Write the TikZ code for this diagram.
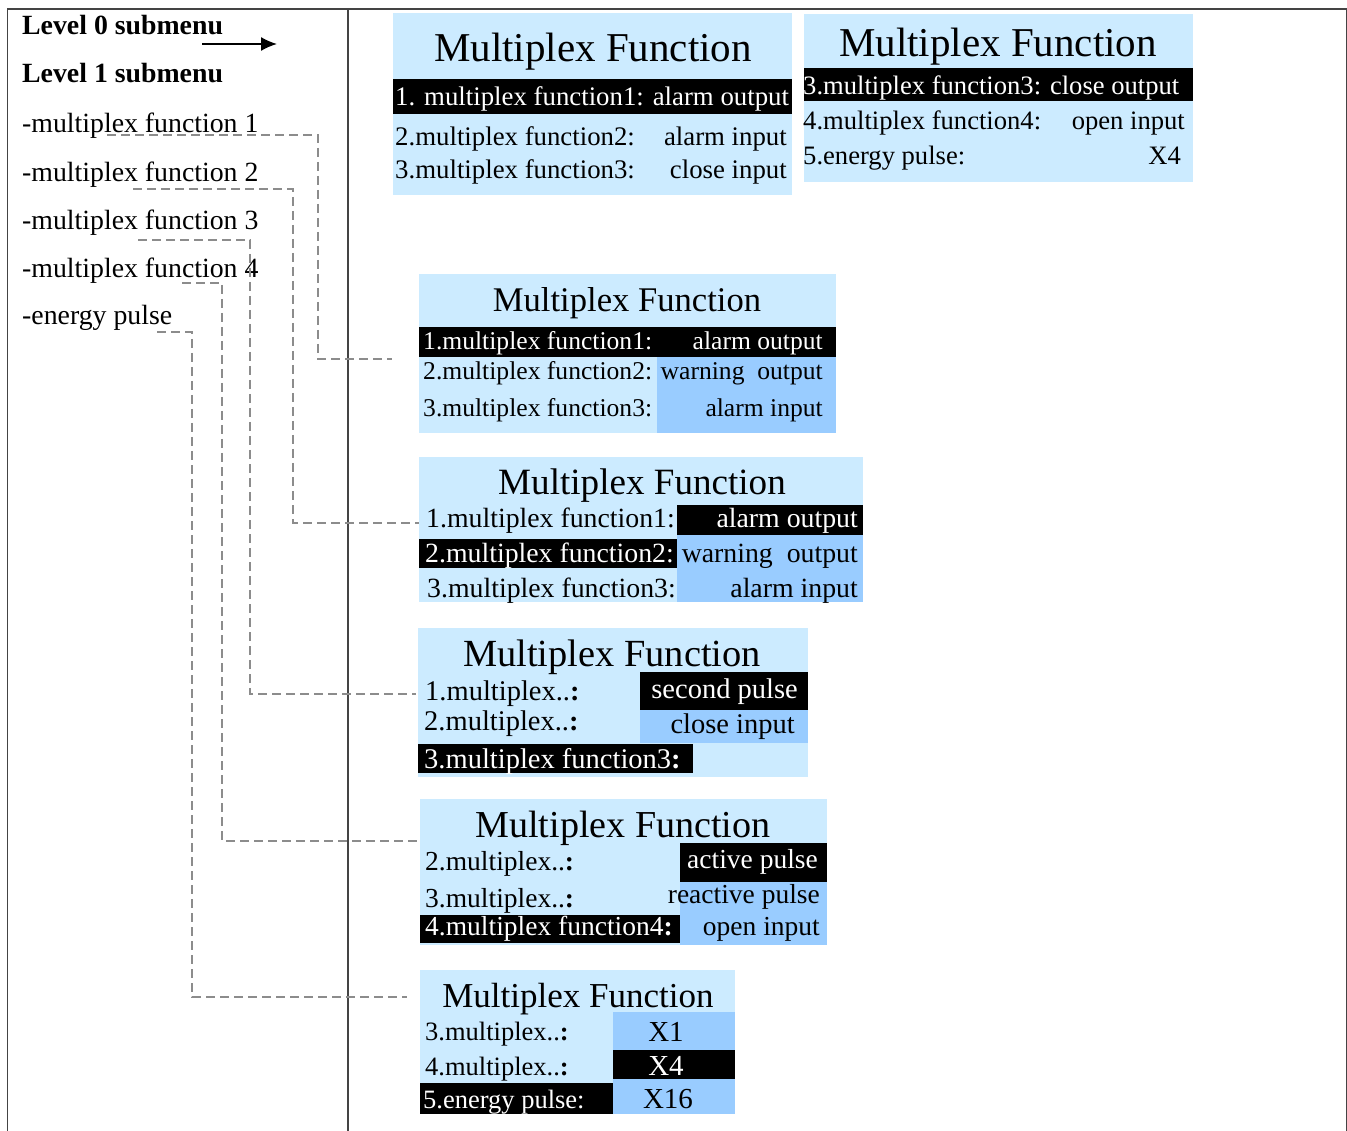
\documentclass[tikz,border=0pt]{standalone}
\usepackage{fontspec}
\setmainfont{Liberation Serif}
\usetikzlibrary{arrows.meta}
\definecolor{pale}{HTML}{CCEBFF}
\definecolor{deep}{HTML}{99CCFF}
\definecolor{rule}{HTML}{444444}
\definecolor{leader}{HTML}{8C8C8C}
\newcommand{\fsz}[1]{\fontsize{#1pt}{#1pt}\selectfont}
\newcommand{\wcol}{\textbf{:}\hspace{0.35em}}
\newcommand{\gap}{\hspace{0.5em}}

\begin{document}
\begin{tikzpicture}[x=1pt,y=-1pt,
  txt/.style={anchor=base west,inner sep=0pt},
  txr/.style={anchor=base east,inner sep=0pt},
  ttl/.style={anchor=base,inner sep=0pt},
  panel/.style={fill=pale,anchor=north west,inner sep=0pt},
  link/.style={leader,line width=1.5pt,dash pattern=on 9pt off 5pt}]
  \useasboundingbox (0,0) rectangle (1347,1131);
  % table frame
  \draw[rule,line width=1.4pt] (7.5,1131) -- (7.5,9) -- (1346.5,9) -- (1346.5,1131);
  \draw[rule,line width=1.4pt] (348,9) -- (348,1131);
  % menu column
  \node[txt,font=\bfseries\fsz{27.8}] (lv0) at (22,35) {Level 0 submenu};
  \node[txt,font=\bfseries\fsz{27.8}] (lv1) at (22,83) {Level 1 submenu};
  \coordinate (a0) at (202,44);
  \coordinate (a1) at (277,44);
  \draw[line width=1.6pt,-{Latex[length=16pt,width=14pt]}] (a0) -- (a1);
  \node[txt,font=\fsz{27.8}] (f1) at (22,133) {-multiplex function 1};
  \node[txt,font=\fsz{27.8}] (f2) at (22,182) {-multiplex function 2};
  \node[txt,font=\fsz{27.8}] (f3) at (22,230) {-multiplex function 3};
  \node[txt,font=\fsz{27.8}] (f4) at (22,278) {-multiplex function 4};
  \node[txt,font=\fsz{27.8}] (f5) at (22,325) {-energy pulse};
  % dashed leaders to the screens
  \coordinate (s1) at (107,135); \coordinate (e1) at (392,359);
  \coordinate (s2) at (133,189); \coordinate (e2) at (420,523);
  \coordinate (s3) at (138,240); \coordinate (e3) at (416,694);
  \coordinate (s4) at (182,283); \coordinate (e4) at (417,841);
  \coordinate (s5) at (157,332); \coordinate (e5) at (407,997);
  \draw[link] (s1) -- ++(211,0) |- (e1);
  \draw[link] (s2) -- ++(160,0) |- (e2);
  \draw[link] (s3) -- ++(112,0) |- (e3);
  \draw[link] (s4) -- ++(40,0) |- (e4);
  \draw[link] (s5) -- ++(35,0) |- (e5);

  % screen 1 (level 0)
  \node[panel,minimum width=399pt,minimum height=182pt] (p1) at (393,13) {};
  \fill[black] (393,79) rectangle (792,114);
  \node[ttl,font=\fsz{41}] (t1) at (593,62) {Multiplex Function};
  \node[txt,text=white,font=\fsz{26.8}] (r11) at (395,106) {1. multiplex function1: alarm output};
  \node[txt,font=\fsz{26.8}] (r12) at (395,146) {2.multiplex function2:};
  \node[txr,font=\fsz{26.8}] (v12) at (787,146) {alarm input};
  \node[txt,font=\fsz{26.8}] (r13) at (395,179) {3.multiplex function3:};
  \node[txr,font=\fsz{26.8}] (v13) at (787,179) {close input};

  % screen 2 (level 0, scrolled)
  \node[panel,minimum width=389pt,minimum height=168pt] (p2) at (804,14) {};
  \fill[black] (804,68) rectangle (1193,101);
  \node[ttl,font=\fsz{41}] (t2) at (998,57) {Multiplex Function};
  \node[txt,text=white,font=\fsz{26.6}] (r21) at (803,95) {3.multiplex function3: close output};
  \node[txt,font=\fsz{26.6}] (r22) at (803,130) {4.multiplex function4:};
  \node[txr,font=\fsz{26.6}] (v22) at (1185,130) {open input};
  \node[txt,font=\fsz{26.6}] (r23) at (803,165) {5.energy pulse:};
  \node[txr,font=\fsz{26.6}] (v23) at (1181,165) {X4};

  % screen 3 (function 1)
  \node[panel,minimum width=417pt,minimum height=159pt] (p3) at (419,274) {};
  \fill[black] (419,327) rectangle (836,357);
  \fill[deep] (657,357) rectangle (836,433);
  \node[ttl,font=\fsz{34.6}] (t3) at (627,312) {Multiplex Function};
  \node[txt,text=white,font=\fsz{25.6}] (r31) at (423,350) {1.multiplex function1:};
  \node[txr,text=white,font=\fsz{25.6}] (v31) at (823,350) {alarm output};
  \node[txt,font=\fsz{25.6}] (r32) at (423,380) {2.multiplex function2:};
  \node[txr,font=\fsz{25.6}] (v32) at (823,380) {warning\gap output};
  \node[txt,font=\fsz{25.6}] (r33) at (423,417) {3.multiplex function3:};
  \node[txr,font=\fsz{25.6}] (v33) at (823,417) {alarm input};

  % screen 4 (function 2)
  \node[panel,minimum width=444pt,minimum height=145pt] (p4) at (419,457) {};
  \fill[black] (677,505) rectangle (863,535);
  \fill[black] (419,539) rectangle (677,568);
  \fill[deep] (677,535) rectangle (863,602);
  \node[ttl,font=\fsz{37.1}] (t4) at (642,494) {Multiplex Function};
  \node[txt,font=\fsz{27.8}] (r41) at (426,527) {1.multiplex function1:};
  \node[txr,text=white,font=\fsz{27.8}] (v41) at (858,527) {alarm output};
  \node[txt,text=white,font=\fsz{27.8}] (r42) at (425,562) {2.multiplex function2:};
  \node[txr,font=\fsz{27.8}] (v42) at (858,562) {warning\gap output};
  \node[txt,font=\fsz{27.8}] (r43) at (427,597) {3.multiplex function3:};
  \node[txr,font=\fsz{27.8}] (v43) at (858,597) {alarm input};

  % screen 5 (function 3)
  \node[panel,minimum width=390pt,minimum height=149pt] (p5) at (418,628) {};
  \fill[black] (640,672) rectangle (808,710);
  \fill[deep] (640,710) rectangle (808,743);
  \fill[black] (418,744) rectangle (693,773);
  \node[ttl,font=\fsz{38.4}] (t5) at (612,666) {Multiplex Function};
  \node[txt,font=\fsz{28.5}] (r51) at (425,700) {1.multiplex..\wcol};
  \node[txr,text=white,font=\fsz{28.5}] (v51) at (798,698) {second pulse};
  \node[txt,font=\fsz{28.5}] (r52) at (424,730) {2.multiplex..\wcol};
  \node[txr,font=\fsz{28.5}] (v52) at (795,733) {close input};
  \node[txt,text=white,font=\fsz{28.5}] (r53) at (424,768) {3.multiplex function3\wcol};

  % screen 6 (function 4)
  \node[panel,minimum width=407pt,minimum height=146pt] (p6) at (420,799) {};
  \fill[black] (680,843) rectangle (827,882);
  \fill[deep] (680,882) rectangle (827,945);
  \fill[black] (420,915) rectangle (680,943);
  \node[ttl,font=\fsz{38.1}] (t6) at (623,837) {Multiplex Function};
  \node[txt,font=\fsz{27.5}] (r61) at (425,870) {2.multiplex..\wcol};
  \node[txr,text=white,font=\fsz{27.5}] (v61) at (818,868) {active pulse};
  \node[txt,font=\fsz{27.5}] (r62) at (425,907) {3.multiplex..\wcol};
  \node[txr,font=\fsz{27.5}] (v62) at (820,903) {reactive pulse};
  \node[txt,text=white,font=\fsz{27.5}] (r63) at (425,935) {4.multiplex function4\wcol};
  \node[txr,font=\fsz{27.5}] (v63) at (820,935) {open input};

  % screen 7 (energy pulse)
  \node[panel,minimum width=315pt,minimum height=144pt] (p7) at (420,970) {};
  \fill[deep] (613,1012) rectangle (735,1050);
  \fill[black] (613,1050) rectangle (735,1079);
  \fill[deep] (613,1079) rectangle (735,1114);
  \fill[black] (420,1083) rectangle (613,1114);
  \node[ttl,font=\fsz{35}] (t7) at (578,1007) {Multiplex Function};
  \node[txt,font=\fsz{26.5}] (r71) at (425,1040) {3.multiplex..\wcol};
  \node[ttl,font=\fsz{29}] (v71) at (666,1041) {X1};
  \node[txt,font=\fsz{26.5}] (r72) at (425,1075) {4.multiplex..\wcol};
  \node[ttl,text=white,font=\fsz{29}] (v72) at (666,1075) {X4};
  \node[txt,text=white,font=\fsz{26.5}] (r73) at (423,1108) {5.energy pulse:};
  \node[ttl,font=\fsz{29}] (v73) at (668,1108) {X16};
\end{tikzpicture}
\end{document}
